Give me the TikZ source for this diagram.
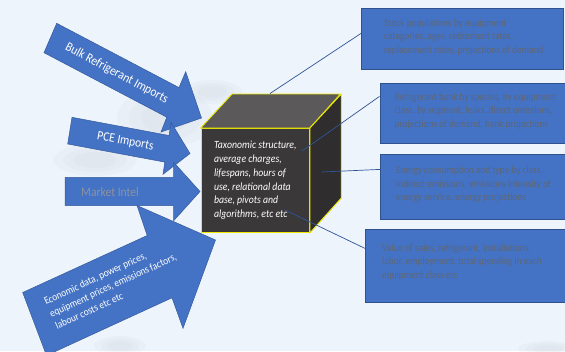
\documentclass[tikz,border=0pt]{standalone}
\usepackage{fontspec}
\setmainfont{Carlito}[FakeStretch=0.89]
\usetikzlibrary{positioning,calc}
\definecolor{bg}{HTML}{EEF4FB}
\definecolor{blu}{HTML}{4472C4}
\definecolor{bluedge}{HTML}{2F528F}
\definecolor{linkblue}{HTML}{2F5597}
\definecolor{boxtxt}{HTML}{5E6776}
\definecolor{inteltxt}{HTML}{8E939B}
\definecolor{cubefront}{HTML}{3A3838}
\definecolor{cubetop}{HTML}{5B5959}
\definecolor{cubeside}{HTML}{2F2D2D}
\definecolor{rim}{HTML}{EDE900}
\definecolor{splash}{HTML}{9AA5B2}
\tikzset{
  infobox/.style={draw=bluedge,fill=blu,line width=0.8pt,anchor=north west,inner sep=0},
  infotext/.style={font=\fontsize{10.5}{13.5}\selectfont,text=boxtxt,align=left,inner sep=0},
  inarrow/.style={fill=blu,draw=blu!80!black,line width=0.5pt},
  arrtext/.style={font=\fontsize{13}{15}\selectfont,text=white,inner sep=0},
  face/.style={draw=rim,line width=0.9pt,line join=round},
  feed/.style={draw=linkblue,line width=0.7pt},
  haze/.style={fill=splash,opacity=.05},
}

\begin{document}
\begin{tikzpicture}[x=1pt,y=-1pt]
\useasboundingbox (0,0) rectangle (565,351);
\clip (0,0) rectangle (565,351);
\fill[bg] (0,0) rectangle (565,351);
% faint splash in the background, a few soft layers each
\foreach \r in {1,0.75,0.5} {
  \fill[haze] (212,92) ellipse ({30*\r} and {12*\r});
  \fill[haze] (95,160) ellipse ({42*\r} and {16*\r});
  \fill[haze] (165,118) ellipse ({48*\r} and {30*\r});
  \fill[haze] (120,346) ellipse ({26*\r} and {10*\r});
  \fill[haze] (548,349) ellipse ({30*\r} and {8*\r});
}

% input arrows
\filldraw[inarrow] (56.7,23.3) -- (179,87.6) -- (185.7,71.7) -- (201.5,118) -- (161,132) -- (166.8,117.2) -- (44,52.7) -- cycle;
\filldraw[inarrow] (72,117.3) -- (169,135.5) -- (171,122.3) -- (190,153.5) -- (163,174.3) -- (164.8,162.1) -- (67.7,144) -- cycle;
\filldraw[inarrow] (65,177.3) -- (173.7,177.3) -- (173.7,162.3) -- (200,191.5) -- (173.7,220.7) -- (173.7,205.7) -- (65,205.7) -- cycle;
\filldraw[inarrow] (22.7,292.5) -- (147.2,235.5) -- (137,205.5) -- (215.5,240) -- (183,328.3) -- (172,297.8) -- (46.5,355.5) -- cycle;
\node[arrtext,rotate=-28] (bulk) at (116.7,73.4) {Bulk Refrigerant Imports};
\node[arrtext,rotate=-10.6] (pce) at (125.4,141.5) {PCE Imports};
\node[arrtext,text=inteltxt,anchor=west] (intel) at (81,192) {Market Intel};
\node[arrtext,font=\fontsize{10.5}{13.5}\selectfont,rotate=24.7,align=left] (econ) at (113,285)
  {Economic data, power prices,\\equipment prices, emissions factors,\\labour costs etc etc};

% the cube
\node[face,fill=cubefront,anchor=north west,inner sep=0,minimum width=108.3pt,minimum height=104pt,
  text=white,align=left,font=\fontsize{11}{13.8}\selectfont\itshape] (cube) at (200.7,128)
  {Taxonomic structure,\\average charges,\\lifespans, hours of\\use, relational data\\base, pivots and\\algorithms, etc etc};
\filldraw[face,fill=cubetop] (cube.north west) -- ++(31.4,-34) -- ++(108.3,0) -- (cube.north east) -- cycle;
\filldraw[face,fill=cubeside] (cube.north east) -- ++(31.4,-34) -- ++(0,104) -- (cube.south east) -- cycle;
\coordinate (topend) at (270,93.5);
\coordinate (frontend) at (302,151);
\coordinate (sideend) at (322,172);
\coordinate (baseend) at (285,210);

% output boxes
\node[infobox,minimum width=202pt,minimum height=61pt] (stock) at (361,8) {};
\node[infobox,minimum width=220pt,minimum height=60pt] (bank) at (379.5,83) {};
\node[infobox,minimum width=220pt,minimum height=65pt] (energy) at (380,154) {};
\node[infobox,minimum width=220pt,minimum height=73pt] (sales) at (365,229) {};
\node[infotext,right=23pt of stock.west,yshift=1.8pt] (stocktxt)
  {Stock populations by equipment\\categories, ages, retirement rates,\\replacement rates, projections of demand};
\node[infotext,right=15pt of bank.west,yshift=2.3pt] (banktxt)
  {Refrigerant bank by species, by equipment\\class, by segment, leaks, direct emissions,\\projections of demand, bank projections};
\node[infotext,right=16pt of energy.west,yshift=2.3pt] (energytxt)
  {Energy consumption and type by class,\\indirect emissions, emissions intensity of\\energy service, energy projections};
\node[infotext,right=17pt of sales.west,yshift=4pt] (salestxt)
  {Value of sales, refrigerant, installations,\\labor, employment, total spending in each\\equipment class etc};

% links from the cube out to the boxes
\draw[feed] ([yshift=5.5pt]stock.west) -- (topend);
\draw[feed] ([yshift=17pt]bank.west) -- (frontend);
\draw[feed] ([yshift=17.5pt]energy.west) -- (sideend);
\draw[feed] ([yshift=17.5pt]sales.west) -- (baseend);
\end{tikzpicture}
\end{document}
